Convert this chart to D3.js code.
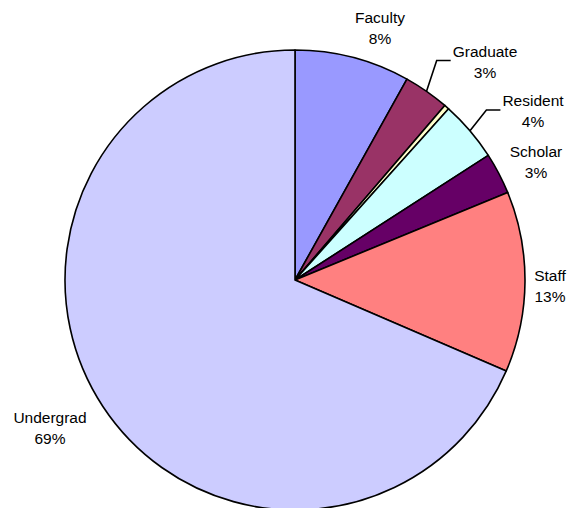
<!DOCTYPE html>
<html>
<head>
<meta charset="utf-8">
<script src="https://cdn.jsdelivr.net/npm/d3@7"></script>
<style>
  body { margin: 0; background: #fff; }
  svg text { font-family: "Liberation Sans", Arial, sans-serif; font-size: 15.5px; fill: #000; }
</style>
</head>
<body>
<div class="pieDiv"></div>
<script>
"use strict";

// slice data, clockwise from 12 o'clock
var groups = ["Faculty", "Graduate", "Other", "Resident", "Scholar", "Staff", "Undergrad"];
var shares = [8.1, 3.2, 0.35, 4.25, 2.9, 12.7, 68.6];
var showLabel = [true, true, false, true, true, true, true];
var colors = ["#9999FF", "#993366", "#FFFFCC", "#CCFFFF", "#660066", "#FF8080", "#CCCCFF"];

// layout: where each label block sits, and which ones get a leader line
var labelAt = {
  Faculty:   { x: 380, y: 28 },
  Graduate:  { x: 485, y: 61.5, leader: true },
  Resident:  { x: 533, y: 111, leader: true },
  Scholar:   { x: 536, y: 162 },
  Staff:     { x: 550, y: 286 },
  Undergrad: { x: 50,  y: 427.5 }
};

var width = 568, height = 508;
var cx = 295, cy = 280, radius = 230;

var data = groups.map(function(g, i) {
  return { name: g, value: shares[i], color: colors[i], label: showLabel[i] };
});
var total = d3.sum(shares);

var svg = d3.select(".pieDiv").append("svg")
    .attr("width", width)
    .attr("height", height);

var g = svg.append("g")
    .attr("transform", "translate(" + cx + "," + cy + ")");

var pie = d3.pie()
    .sort(null)
    .value(function(d) { return d.value; });

var arc = d3.arc()
    .innerRadius(0)
    .outerRadius(radius);

var arcs = pie(data);

g.selectAll("path.slice")
  .data(arcs)
  .enter().append("path")
    .attr("class", "slice")
    .attr("d", arc)
    .attr("fill", function(d) { return d.data.color; })
    .attr("stroke", "#000")
    .attr("stroke-width", 1.6)
    .attr("stroke-linejoin", "round");

// labels (absolute page coords)
var labelled = arcs.filter(function(d) { return d.data.label; });

var txt = svg.selectAll("g.lbl")
  .data(labelled)
  .enter().append("g")
    .attr("class", "lbl");

txt.append("text")
    .attr("text-anchor", "middle")
    .attr("x", function(d) { return labelAt[d.data.name].x; })
    .attr("y", function(d) { return labelAt[d.data.name].y - 10.5 + 5.5; })
    .text(function(d) { return d.data.name; });

txt.append("text")
    .attr("text-anchor", "middle")
    .attr("x", function(d) { return labelAt[d.data.name].x; })
    .attr("y", function(d) { return labelAt[d.data.name].y + 10.5 + 5.5; })
    .text(function(d) { return Math.round(d.data.value / total * 100) + "%"; });

// leader lines for the labels that were pulled away
txt.filter(function(d) { return labelAt[d.data.name].leader; })
  .each(function(d) {
    var mid = (d.startAngle + d.endAngle) / 2;
    var sx = cx + radius * Math.sin(mid), sy = cy - radius * Math.cos(mid);
    var tw = d3.select(this).select("text").node().getComputedTextLength();
    var ex = labelAt[d.data.name].x - tw / 2 - 2, ey = labelAt[d.data.name].y - 1;
    d3.select(this).append("polyline")
      .attr("points", [[sx, sy], [ex - 14, ey], [ex, ey]].join(" "))
      .attr("fill", "none")
      .attr("stroke", "#000")
      .attr("stroke-width", 1.6);
  });
</script>
</body>
</html>
